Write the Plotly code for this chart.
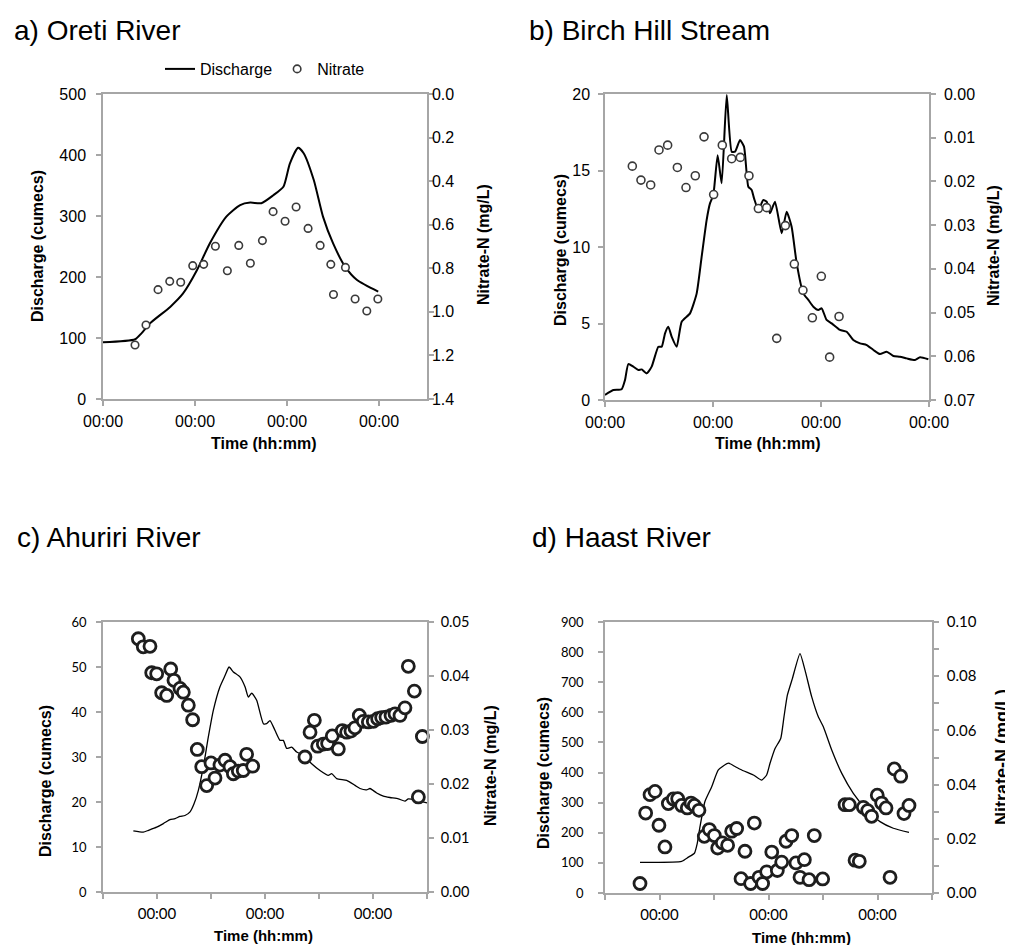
import plotly.graph_objects as go

W, H = 1013, 945
OFF = 8                      # page body margin of the html page
FW, FH = W - OFF, H - OFF    # figure size

# ---------------- data (time in days from first 00:00) ----------------
# a) Oreti River
a_q_time = [0.0, 0.35, 0.42, 0.51, 0.73, 0.87, 1.02, 1.16, 1.34, 1.49, 1.60, 1.72,
            1.85, 1.96, 2.03, 2.12, 2.18, 2.29, 2.39, 2.50, 2.63, 2.76, 2.99]
a_q = [93, 98, 108, 124, 151, 173, 211, 255, 299, 318, 322, 321,
       334, 348, 386, 412, 403, 359, 299, 255, 217, 195, 176]
a_n_time = [0.348, 0.467, 0.598, 0.725, 0.844, 0.975, 1.094, 1.221, 1.351, 1.475, 1.601, 1.732,
            1.848, 1.978, 2.098, 2.228, 2.359, 2.475, 2.504, 2.634, 2.739, 2.866, 2.986]
a_n = [1.152, 1.060, 0.898, 0.860, 0.864, 0.788, 0.782, 0.699, 0.811, 0.695, 0.777, 0.673,
       0.540, 0.584, 0.519, 0.617, 0.695, 0.782, 0.920, 0.796, 0.941, 0.996, 0.941]

# b) Birch Hill Stream
b_q_time = [0.0, 0.077, 0.154, 0.185, 0.216, 0.262, 0.309, 0.34, 0.386, 0.432, 0.494, 0.525,
            0.556, 0.586, 0.617, 0.664, 0.710, 0.787, 0.849, 0.895, 0.941, 0.972, 1.003, 1.043,
            1.080, 1.127, 1.173, 1.204, 1.25, 1.287, 1.327, 1.358, 1.380, 1.420, 1.466, 1.497,
            1.528, 1.574, 1.636, 1.682, 1.728, 1.775, 1.836, 1.883, 1.929, 1.975, 2.006, 2.052,
            2.099, 2.176, 2.238, 2.299, 2.361, 2.423, 2.485, 2.546, 2.608, 2.67, 2.731, 2.793,
            2.870, 2.917, 2.994]
b_q = [0.33, 0.65, 0.70, 1.3, 2.35, 2.18, 1.96, 2.0, 1.74, 2.18, 3.48, 3.48,
       4.36, 4.79, 4.14, 3.48, 5.12, 5.66, 6.97, 9.37, 11.76, 12.85, 13.40, 16.0,
       14.16, 19.93, 16.23, 16.23, 16.99, 16.56, 13.94, 13.73, 13.18, 12.42, 13.07, 12.96,
       12.2, 12.96, 10.9, 12.31, 11.33, 8.93, 6.97, 6.54, 6.1, 5.88, 5.99, 5.23,
       5.01, 4.58, 4.46, 3.92, 3.70, 3.59, 3.27, 3.0, 3.16, 2.88, 2.83, 2.72,
       2.61, 2.79, 2.66]
b_n_time = [0.253, 0.333, 0.423, 0.500, 0.580, 0.670, 0.750, 0.836, 0.917, 1.006, 1.086, 1.173,
            1.253, 1.333, 1.420, 1.497, 1.590, 1.670, 1.753, 1.833, 1.920, 2.003, 2.080, 2.167]
b_n = [0.0165, 0.0197, 0.0208, 0.0128, 0.0117, 0.0168, 0.0214, 0.0187, 0.0098, 0.0230, 0.0117, 0.0148,
       0.0145, 0.0187, 0.0262, 0.0260, 0.0559, 0.0301, 0.0389, 0.0449, 0.0512, 0.0417, 0.0602, 0.0509]

# c) Ahuriri River
c_q_time = [0.281, 0.373, 0.420, 0.497, 0.559, 0.620, 0.667, 0.713, 0.759, 0.806, 0.843, 0.883,
            0.929, 0.975, 1.022, 1.083, 1.130, 1.167, 1.207, 1.268, 1.315, 1.346, 1.377, 1.423,
            1.485, 1.515, 1.546, 1.593, 1.639, 1.670, 1.701, 1.747, 1.793, 1.855, 1.932, 2.009,
            2.086, 2.117, 2.164, 2.256, 2.333, 2.380, 2.441, 2.472, 2.534, 2.596, 2.657, 2.735,
            2.796, 2.827, 2.904, 3.0]
c_q = [13.6, 13.3, 13.7, 14.4, 15.2, 16.1, 16.3, 16.8, 17.0, 17.8, 19.6, 22.6,
       27.8, 34.4, 40.4, 45.6, 48.1, 50.0, 48.9, 47.8, 45.6, 43.3, 44.2, 42.6,
       37.4, 37.4, 38.1, 35.9, 33.7, 33.7, 31.9, 32.2, 31.1, 30.4, 28.5, 27.0,
       25.9, 26.3, 25.2, 24.8, 23.7, 23.0, 22.7, 23.0, 22.0, 21.3, 21.0, 20.7,
       20.2, 20.7, 20.4, 19.8]
c_n_time = [0.327, 0.373, 0.435, 0.451, 0.497, 0.543, 0.590, 0.627, 0.657, 0.713, 0.744, 0.790,
            0.830, 0.873, 0.914, 0.960, 1.000, 1.037, 1.083, 1.130, 1.176, 1.207, 1.253, 1.299,
            1.330, 1.386, 1.870, 1.917, 1.957, 1.988, 2.040, 2.080, 2.123, 2.179, 2.216, 2.256,
            2.296, 2.333, 2.373, 2.410, 2.457, 2.503, 2.543, 2.580, 2.620, 2.667, 2.704, 2.750,
            2.796, 2.827, 2.883, 2.920, 2.957]
c_n = [0.0469, 0.0454, 0.0455, 0.0406, 0.0404, 0.0369, 0.0364, 0.0413, 0.0392, 0.0377, 0.0370, 0.0346,
       0.0319, 0.0264, 0.0232, 0.0197, 0.0239, 0.0211, 0.0235, 0.0244, 0.0232, 0.0219, 0.0224, 0.0225,
       0.0255, 0.0233, 0.0250, 0.0296, 0.0318, 0.0270, 0.0274, 0.0275, 0.0289, 0.0265, 0.0299, 0.0296,
       0.0298, 0.0304, 0.0327, 0.0316, 0.0315, 0.0316, 0.0321, 0.0323, 0.0324, 0.0327, 0.0330, 0.0327,
       0.0341, 0.0418, 0.0372, 0.0176, 0.0288]

# d) Haast River
d_q_time = [0.321, 0.703, 0.765, 0.820, 0.847, 0.872, 0.917, 0.979, 1.040, 1.131, 1.193, 1.269,
            1.361, 1.437, 1.483, 1.514, 1.560, 1.612, 1.642, 1.673, 1.719, 1.789, 1.835, 1.896,
            1.957, 2.003, 2.080, 2.171, 2.278, 2.401, 2.523, 2.645, 2.789]
d_q = [102, 105, 119, 132, 166, 221, 304, 353, 409, 431, 420, 406,
       392, 375, 392, 431, 480, 513, 585, 657, 712, 795, 740, 652,
       585, 552, 475, 398, 331, 276, 237, 215, 201]
d_n_time = [0.321, 0.373, 0.413, 0.459, 0.495, 0.550, 0.581, 0.627, 0.667, 0.703, 0.755, 0.789,
            0.820, 0.862, 0.911, 0.957, 1.003, 1.034, 1.076, 1.125, 1.162, 1.208, 1.284, 1.370,
            1.248, 1.336, 1.413, 1.446, 1.483, 1.530, 1.581, 1.621, 1.661, 1.713, 1.752, 1.789,
            1.829, 1.872, 1.920, 1.997, 2.202, 2.241, 2.294, 2.333, 2.370, 2.410, 2.446, 2.498,
            2.538, 2.578, 2.615, 2.654, 2.713, 2.743, 2.789]
d_n = [0.0035, 0.0295, 0.0363, 0.0375, 0.0250, 0.0170, 0.0330, 0.0347, 0.0348, 0.0323, 0.0314, 0.0332,
       0.0323, 0.0305, 0.0209, 0.0234, 0.0212, 0.0166, 0.0185, 0.0176, 0.0228, 0.0238, 0.0154, 0.0258,
       0.0053, 0.0035, 0.0058, 0.0035, 0.0078, 0.0151, 0.0083, 0.0114, 0.0191, 0.0212, 0.0111, 0.0058,
       0.0123, 0.0049, 0.0212, 0.0052, 0.0326, 0.0326, 0.0121, 0.0117, 0.0316, 0.0304, 0.0283, 0.0361,
       0.0332, 0.0314, 0.0058, 0.0458, 0.0431, 0.0293, 0.0323]

titles = ["a) Oreti River", "b) Birch Hill Stream", "c) Ahuriri River", "d) Haast River"]
tick_label = "00:00"

# ---------------- figure ----------------
AX = "#a6a6a6"
ARIAL = "Liberation Sans, Arial, sans-serif"
LATO = "Lato, Liberation Sans, sans-serif"


def fx(p):
    return (p - OFF) / FW


def fy(p):
    return 1 - (p - OFF) / FH


fig = go.Figure()

small_marker = dict(symbol="circle", size=8, color="white", line=dict(color="#3a3a3a", width=1.6))
big_marker = dict(symbol="circle", size=12, color="white", line=dict(color="#1e1e1e", width=2.8))

# a
fig.add_trace(go.Scatter(x=a_q_time, y=a_q, mode="lines", name="Discharge",
                         line=dict(color="black", width=2, shape="spline", smoothing=0.6),
                         xaxis="x", yaxis="y", showlegend=True, legendrank=1))
fig.add_trace(go.Scatter(x=a_n_time, y=a_n, mode="markers", name="Nitrate",
                         marker=dict(symbol="circle", size=7.5, color="white",
                                     line=dict(color="#3a3a3a", width=1.6)),
                         xaxis="x", yaxis="y2", showlegend=True, legendrank=2, cliponaxis=False))
# b
fig.add_trace(go.Scatter(x=b_q_time, y=b_q, mode="lines", line=dict(color="black", width=2, shape="spline", smoothing=0.5),
                         xaxis="x2", yaxis="y3", showlegend=False))
fig.add_trace(go.Scatter(x=b_n_time, y=b_n, mode="markers", marker=small_marker,
                         xaxis="x2", yaxis="y4", showlegend=False, cliponaxis=False))
# c
fig.add_trace(go.Scatter(x=c_q_time, y=c_q, mode="lines", line=dict(color="black", width=1.3, shape="spline", smoothing=0.5),
                         xaxis="x3", yaxis="y5", showlegend=False))
fig.add_trace(go.Scatter(x=c_n_time, y=c_n, mode="markers", marker=big_marker,
                         xaxis="x3", yaxis="y6", showlegend=False, cliponaxis=False))
# d
fig.add_trace(go.Scatter(x=d_q_time, y=d_q, mode="lines", line=dict(color="black", width=1.3, shape="spline", smoothing=0.5),
                         xaxis="x4", yaxis="y7", showlegend=False))
fig.add_trace(go.Scatter(x=d_n_time, y=d_n, mode="markers", marker=big_marker,
                         xaxis="x4", yaxis="y8", showlegend=False, cliponaxis=False))


def xax(dom, rng, tickvals, ticktext, font, anchor):
    return dict(domain=dom, range=rng, tickvals=tickvals, ticktext=ticktext, anchor=anchor,
                showline=True, linecolor=AX, linewidth=1.5, mirror=True,
                ticks="outside", ticklen=5, tickcolor=AX, tickwidth=1.5,
                showgrid=False, zeroline=False, tickfont=font, ticklabelstandoff=2,
                automargin=False)


def yax(dom, rng, dtick, font, anchor, side="left", overlaying=None, tickvals=None,
        ticktext=None, tickformat=None, standoff=8):
    d = dict(domain=dom, range=rng, showline=True, linecolor=AX, linewidth=1.5,
             ticks="outside", ticklen=5, tickcolor=AX, tickwidth=1.5,
             showgrid=False, zeroline=False, tickfont=font, anchor=anchor, side=side,
             ticklabelstandoff=standoff, automargin=False)
    if tickvals is not None:
        d["tickvals"] = tickvals
        d["ticktext"] = ticktext
    else:
        d["dtick"] = dtick
        d["tick0"] = 0
    if tickformat:
        d["tickformat"] = tickformat
    if overlaying:
        d["overlaying"] = overlaying
    return d


fa = dict(family=ARIAL, size=16, color="black")
fl = dict(family=LATO, size=15, color="black")
fl_small = dict(family=LATO, size=13, color="black")

dom_a_x = [fx(103), fx(427)]
dom_a_y = [fy(399), fy(94)]
dom_b_x = [fx(605), fx(929)]
dom_b_y = [fy(400), fy(94)]
dom_c_x = [fx(103), fx(427)]
dom_c_y = [fy(892), fy(622)]
dom_d_x = [fx(605), fx(932)]
dom_d_y = [fy(893), fy(622)]

xt_full = [0, 1, 2, 3]
xt_half = [0, 0.5, 1, 1.5, 2, 2.5, 3]
xt_half_txt = ["", tick_label, "", tick_label, "", tick_label, ""]

d_right_vals = [i / 100 for i in range(11)]
d_right_txt = [f"{v:.2f}" if i % 2 == 0 else "" for i, v in enumerate(d_right_vals)]

fig.update_layout(
    width=FW, height=FH, margin=dict(l=0, r=0, t=0, b=0, autoexpand=False),
    paper_bgcolor="white", plot_bgcolor="white",
    font=dict(family=ARIAL, color="black"),
    xaxis=xax(dom_a_x, [0, 3.52], xt_full, [tick_label] * 4, fa, "y"),
    yaxis=yax(dom_a_y, [0, 500], 100, fa, "x", standoff=7),
    yaxis2=yax(dom_a_y, [1.4, 0], 0.2, fa, "x", side="right", overlaying="y",
               tickformat=".1f", standoff=-5),
    xaxis2=xax(dom_b_x, [0, 3], xt_full, [tick_label] * 4, fa, "y3"),
    yaxis3=yax(dom_b_y, [0, 20], 5, fa, "x2", standoff=5),
    yaxis4=yax(dom_b_y, [0.07, 0], 0.01, fa, "x2", side="right", overlaying="y3",
               tickformat=".2f", standoff=5),
    xaxis3=xax(dom_c_x, [0, 3], xt_half, xt_half_txt, fl, "y5"),
    yaxis5=yax(dom_c_y, [0, 60], 10, fl_small, "x3", standoff=7),
    yaxis6=yax(dom_c_y, [0, 0.05], 0.01, dict(family=LATO, size=14.5, color="black"), "x3",
               side="right", overlaying="y5", tickformat=".2f", standoff=4),
    xaxis4=xax(dom_d_x, [0, 3], xt_half, xt_half_txt, fl, "y7"),
    yaxis7=yax(dom_d_y, [0, 900], 100, fl_small, "x4", standoff=12),
    yaxis8=yax(dom_d_y, [0, 0.10], None, dict(family=LATO, size=15, color="black"), "x4",
               side="right", overlaying="y7", tickvals=d_right_vals, ticktext=d_right_txt,
               standoff=5),
    legend=dict(orientation="h", x=fx(160), y=fy(52), xanchor="left", yanchor="top",
                font=dict(family=ARIAL, size=16, color="black"), itemwidth=30,
                bgcolor="rgba(0,0,0,0)", traceorder="normal"),
)

ann = []
# panel titles
for t, x, y in zip(titles, [12, 527, 15, 530], [30, 30, 537, 537]):
    ann.append(dict(text=t, x=fx(x), y=fy(y), xref="paper", yref="paper",
                    xanchor="left", yanchor="middle", showarrow=False,
                    font=dict(family=ARIAL, size=28, color="black")))


def vtitle(text, x, y, size=16):
    ann.append(dict(text=f"<b>{text}</b>", x=fx(x), y=fy(y), xref="paper", yref="paper",
                    xanchor="center", yanchor="middle", showarrow=False, textangle=-90,
                    font=dict(family=ARIAL, size=size, color="black")))


def htitle(text, x, y, size=16):
    ann.append(dict(text=f"<b>{text}</b>", x=fx(x), y=fy(y), xref="paper", yref="paper",
                    xanchor="center", yanchor="middle", showarrow=False,
                    font=dict(family=ARIAL, size=size, color="black")))


left_t = "Discharge (cumecs)"
right_t = "Nitrate-N (mg/L)"
time_t = "Time (hh:mm)"
vtitle(left_t, 37, 246)
vtitle(right_t, 483, 245)
vtitle(left_t, 560, 250)
vtitle(right_t, 993, 246)
vtitle(left_t, 45, 781)
vtitle(right_t, 490, 766)
vtitle(left_t, 543, 773)
vtitle(right_t, 1002, 757, size=18)
htitle(time_t, 264, 443)
htitle(time_t, 767, 443)
htitle(time_t, 264, 935, size=15)
htitle(time_t, 801, 937, size=15)

fig.update_layout(annotations=ann)

fig.write_html("out.html")
